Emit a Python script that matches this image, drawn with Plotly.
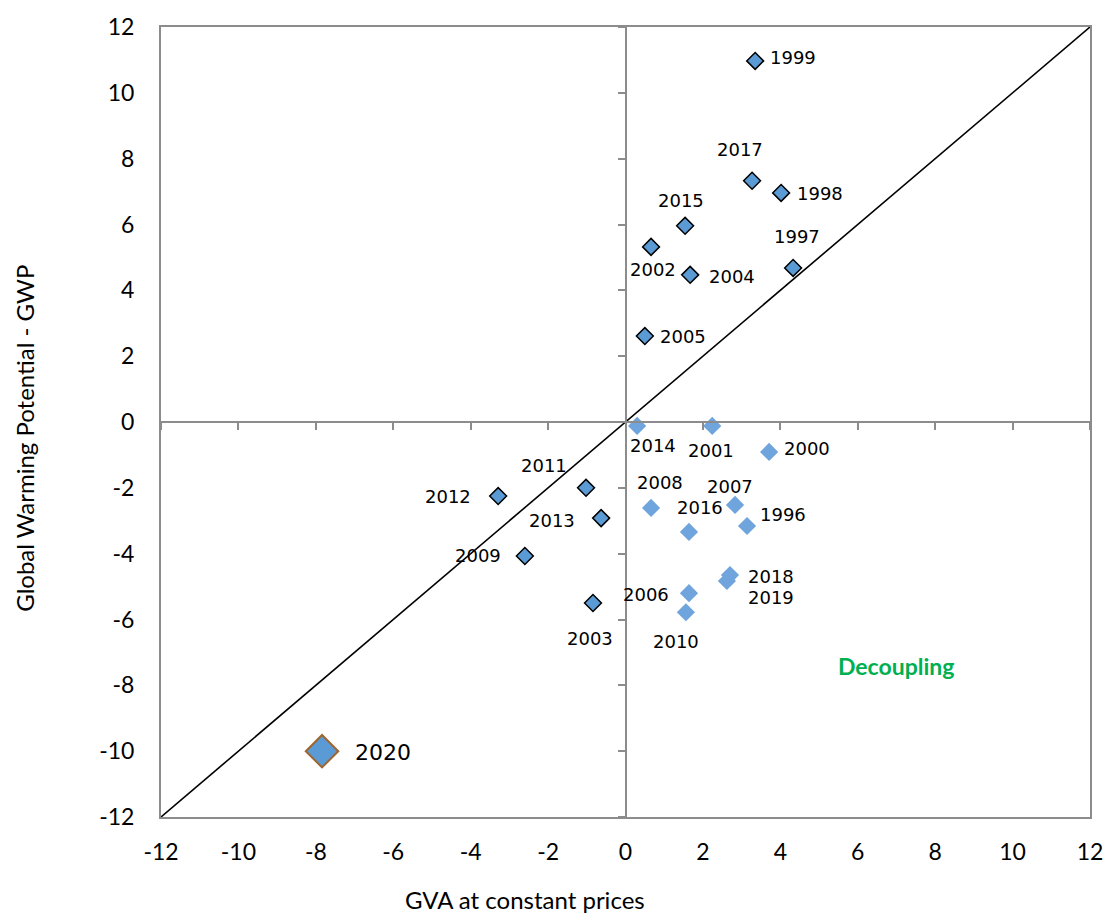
import plotly.graph_objects as go

# ---- data ----
years_coupled = ["1999", "2017", "1998", "2015", "2002", "2004", "1997", "2005",
                 "2011", "2012", "2013", "2009", "2003"]
gva_coupled = [3.35, 3.27, 4.02, 1.54, 0.66, 1.67, 4.33, 0.50,
               -1.02, -3.29, -0.63, -2.60, -0.84]
gwp_coupled = [10.97, 7.33, 6.96, 5.96, 5.32, 4.47, 4.68, 2.61,
               -2.00, -2.25, -2.92, -4.07, -5.50]

years_decoupled = ["2014", "2001", "2000", "2008", "2007", "2016", "1996",
                   "2018", "2019", "2006", "2010"]
gva_decoupled = [0.30, 2.24, 3.71, 0.66, 2.83, 1.64, 3.14, 2.70, 2.62, 1.64, 1.56]
gwp_decoupled = [-0.12, -0.12, -0.91, -2.61, -2.52, -3.34, -3.16, -4.65, -4.83, -5.20, -5.78]

years_2020 = ["2020"]
gva_2020 = [-7.84]
gwp_2020 = [-10.0]

axis_range = [-12, 12]
tick_vals = [-12, -10, -8, -6, -4, -2, 0, 2, 4, 6, 8, 10, 12]
tick_text = ["-12", "-10", "-8", "-6", "-4", "-2", "0", "2", "4", "6", "8", "10", "12"]
x_title = "GVA at constant prices"
y_title = "Global Warming Potential - GWP"
zone_label = "Decoupling"

# ---- label offsets (px, style only) ----
label_offsets = {
    "1999": (38, 3), "2017": (-12, 31), "1998": (39, -1), "2015": (-4, 25),
    "2002": (2, -23), "2004": (42, -2), "1997": (4, 31), "2005": (38, 0),
    "2011": (-42, 22), "2012": (-50, 0), "2013": (-49, -2), "2009": (-47, 0),
    "2003": (-3, -35), "2014": (16, -20), "2001": (-1, -25), "2000": (38, 3),
    "2008": (9, 25), "2007": (-5, 18), "2016": (11, 24), "1996": (36, 12),
    "2018": (41, -1), "2019": (44, -17), "2006": (-43, -1), "2010": (-10, -29),
    "2020": (61, -1),
}

AX_FONT = "Lato, 'Open Sans', sans-serif"
LBL_FONT = "'DejaVu Sans', Verdana, sans-serif"
GRAY = "#8c8c8c"

fig = go.Figure()

# diagonal y = x
fig.add_trace(go.Scatter(x=axis_range, y=axis_range, mode="lines",
                         line=dict(color="black", width=1.6),
                         hoverinfo="skip", showlegend=False))

fig.add_trace(go.Scatter(x=gva_decoupled, y=gwp_decoupled, mode="markers",
                         marker=dict(symbol="diamond", size=14, color="#6fa5dc",
                                     line=dict(width=0)),
                         text=years_decoupled, showlegend=False))

fig.add_trace(go.Scatter(x=gva_coupled, y=gwp_coupled, mode="markers",
                         marker=dict(symbol="diamond", size=13, color="#5b9bd5",
                                     line=dict(color="black", width=1.5)),
                         text=years_coupled, showlegend=False))

fig.add_trace(go.Scatter(x=gva_2020, y=gwp_2020, mode="markers",
                         marker=dict(symbol="diamond", size=25, color="#5b9bd5",
                                     line=dict(color="#a0652e", width=2)),
                         text=years_2020, showlegend=False))

# invisible trace on the zero-crossing axes
fig.add_trace(go.Scatter(x=axis_range, y=axis_range, xaxis="x2", yaxis="y2",
                         mode="markers", marker=dict(opacity=0),
                         hoverinfo="skip", showlegend=False))

annotations = []
for yrs, xs, ys in [(years_coupled, gva_coupled, gwp_coupled),
                    (years_decoupled, gva_decoupled, gwp_decoupled)]:
    for yr, xv, yv in zip(yrs, xs, ys):
        dx, dy = label_offsets[yr]
        annotations.append(dict(x=xv, y=yv, text=yr, showarrow=False,
                                xshift=dx, yshift=dy,
                                font=dict(family=LBL_FONT, size=18, color="black")))
for yr, xv, yv in zip(years_2020, gva_2020, gwp_2020):
    dx, dy = label_offsets[yr]
    annotations.append(dict(x=xv, y=yv, text=yr, showarrow=False,
                            xshift=dx, yshift=dy,
                            font=dict(family=LBL_FONT, size=22, color="black")))

annotations.append(dict(x=7, y=-7.4, text="<b>" + zone_label + "</b>", showarrow=False,
                        font=dict(family=AX_FONT, size=23, color="#00b050")))
annotations.append(dict(xref="paper", yref="paper", x=0.392, y=-0.105,
                        text=x_title, showarrow=False, xanchor="center", yanchor="middle",
                        font=dict(family=AX_FONT, size=24, color="black")))
annotations.append(dict(xref="paper", yref="paper", x=-0.1464, y=0.48,
                        text=y_title, showarrow=False, textangle=-90,
                        xanchor="center", yanchor="middle",
                        font=dict(family=AX_FONT, size=24, color="black")))

fig.update_layout(
    width=1104, height=916,
    margin=dict(l=161, r=14, t=27, b=99, autoexpand=False),
    plot_bgcolor="white", paper_bgcolor="white",
    annotations=annotations,
    xaxis=dict(range=axis_range, tickvals=tick_vals, ticktext=tick_text,
               showgrid=False, zeroline=False, automargin=False,
               showline=True, linecolor=GRAY, linewidth=2, mirror=True,
               ticks="", ticklabelstandoff=13,
               tickfont=dict(family=AX_FONT, size=23, color="black")),
    yaxis=dict(range=axis_range, tickvals=tick_vals, ticktext=tick_text,
               showgrid=False, zeroline=False, automargin=False,
               showline=True, linecolor=GRAY, linewidth=2, mirror=True,
               ticks="", ticklabelstandoff=20,
               tickfont=dict(family=AX_FONT, size=23, color="black")),
    xaxis2=dict(range=axis_range, tickvals=tick_vals, overlaying="x", anchor="free",
                position=0.5, showgrid=False, zeroline=False, showline=True,
                automargin=False,
                linecolor=GRAY, linewidth=2, ticks="outside", ticklen=7,
                tickcolor=GRAY, tickwidth=2, showticklabels=False),
    yaxis2=dict(range=axis_range, tickvals=tick_vals, overlaying="y", anchor="free",
                position=0.5, showgrid=False, zeroline=False, showline=True,
                automargin=False,
                linecolor=GRAY, linewidth=2, ticks="outside", ticklen=7,
                tickcolor=GRAY, tickwidth=2, showticklabels=False),
)

fig.write_html("out.html", config={"displayModeBar": False},
               post_script="document.body.style.margin='0';document.body.style.overflow='hidden';")
